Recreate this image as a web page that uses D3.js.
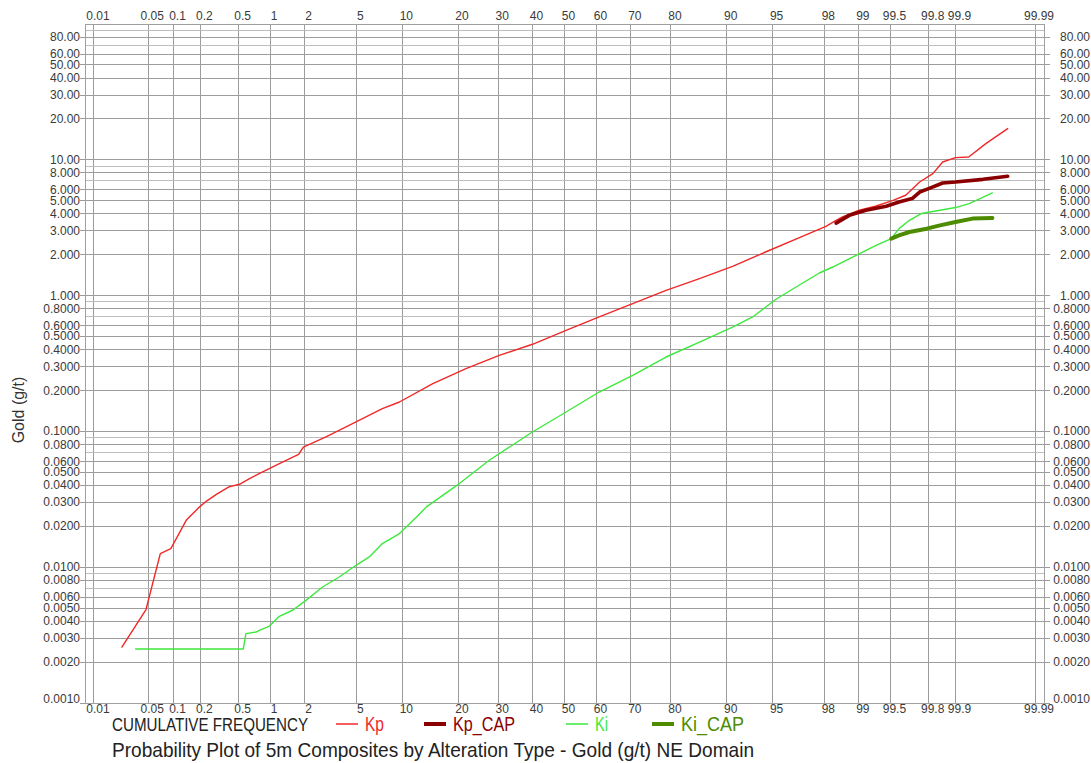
<!DOCTYPE html>
<html><head><meta charset="utf-8">
<script src="https://cdn.jsdelivr.net/npm/d3@7"></script>
<style>
html,body{margin:0;padding:0;background:#fff;}
svg{display:block;}
</style></head>
<body><svg id="chart" width="1091" height="763"></svg>
<script>
// ---------------- DATA ----------------
const probTicks = [0.01,0.05,0.1,0.2,0.5,1,2,5,10,20,30,40,50,60,70,80,90,95,98,99,99.5,99.8,99.9,99.99];
const probTickLabels = ["0.01","0.05","0.1","0.2","0.5","1","2","5","10","20","30","40","50","60","70","80","90","95","98","99","99.5","99.8","99.9","99.99"];
const yTicks = [80,60,50,40,30,20,10,8,6,5,4,3,2,1,0.8,0.6,0.5,0.4,0.3,0.2,0.1,0.08,0.06,0.05,0.04,0.03,0.02,0.01,0.008,0.006,0.005,0.004,0.003,0.002,0.001];
const yTickLabels = ["80.00","60.00","50.00","40.00","30.00","20.00","10.00","8.000","6.000","5.000","4.000","3.000","2.000","1.000","0.8000","0.6000","0.5000","0.4000","0.3000","0.2000","0.1000","0.0800","0.0600","0.0500","0.0400","0.0300","0.0200","0.0100","0.0080","0.0060","0.0050","0.0040","0.0030","0.0020","0.0010"];
const yGridMinor = [90,70,9,7,0.9,0.7,0.09,0.07,0.009,0.007];

// cumulative frequency (%) and gold grade (g/t)
const kpProb  = [0.0234,0.047,0.070,0.093,0.141,0.195,0.233,0.305,0.40,0.51,0.64,0.79,1.21,1.78,1.95,2.97,4.97,7.5,9.6,14.9,21.8,30.3,40.0,50.5,60.8,70.5,78.9,85.7,90.8,94.4,96.8,98.06,98.41,98.6,99.01,99.3,99.53,99.65,99.75,99.82,99.86,99.90,99.930,99.957,99.977];
const kpValue = [0.00258,0.00488,0.0126,0.0137,0.0224,0.0277,0.0307,0.0348,0.0390,0.0408,0.0449,0.0489,0.0579,0.0678,0.0767,0.0910,0.1173,0.147,0.1646,0.2249,0.290,0.3634,0.438,0.555,0.696,0.873,1.094,1.334,1.644,2.094,2.665,3.238,3.585,3.80,4.25,4.55,5.03,5.48,6.86,7.91,9.63,10.38,10.49,13.2,16.97];

const kpCapProb  = [98.41,98.78,99.14,99.45,99.59,99.70,99.75,99.80,99.86,99.90,99.953,99.977];
const kpCapValue = [3.42,3.90,4.25,4.55,4.89,5.18,5.79,6.14,6.75,6.86,7.18,7.56];

const kiProb  = [0.035,0.556,0.59,0.74,0.82,0.98,1.21,1.58,2.05,2.79,3.75,4.97,6.14,7.5,9.6,12.4,13.7,20.3,27.6,40.0,50.5,60.8,70.5,78.9,85.7,90.8,93.15,95.27,96.64,97.80,98.30,98.94,99.31,99.51,99.59,99.68,99.76,99.85,99.90,99.931,99.964];
const kiValue = [0.0025,0.0025,0.00324,0.00333,0.00347,0.00367,0.00435,0.00482,0.0057,0.00715,0.00847,0.01033,0.0119,0.01493,0.01768,0.0241,0.0277,0.0413,0.0613,0.0990,0.139,0.195,0.259,0.353,0.455,0.587,0.696,0.94,1.157,1.467,1.624,1.981,2.346,2.629,3.114,3.585,4.02,4.25,4.45,4.76,5.70];

const kiCapProb  = [99.51,99.59,99.68,99.79,99.85,99.90,99.937,99.964];
const kiCapValue = [2.63,2.78,2.94,3.11,3.29,3.48,3.69,3.73];

const seriesNames  = ["Kp","Kp_CAP","Ki","Ki_CAP"];
const seriesColors = ["#f02828","#8a0000","#3de83d","#4d8c00"];
const seriesWidths = [1.4,3.6,1.4,4];

// ---------------- HELPERS ----------------
function probit(p){ // inverse normal CDF (Acklam)
  const a=[-3.969683028665376e+01,2.209460984245205e+02,-2.759285104469687e+02,1.383577518672690e+02,-3.066479806614716e+01,2.506628277459239e+00];
  const b=[-5.447609879822406e+01,1.615858368580409e+02,-1.556989798598866e+02,6.680131188771972e+01,-1.328068155288572e+01];
  const c=[-7.784894002430293e-03,-3.223964580411365e-01,-2.400758277161838e+00,-2.549732539343734e+00,4.374664141464968e+00,2.938163982698783e+00];
  const d=[7.784695709041462e-03,3.224671290700398e-01,2.445134137142996e+00,3.754408661907416e+00];
  const pl=0.02425, ph=1-pl; let q,r;
  if(p<pl){q=Math.sqrt(-2*Math.log(p));return (((((c[0]*q+c[1])*q+c[2])*q+c[3])*q+c[4])*q+c[5])/((((d[0]*q+d[1])*q+d[2])*q+d[3])*q+1);}
  if(p<=ph){q=p-0.5;r=q*q;return (((((a[0]*r+a[1])*r+a[2])*r+a[3])*r+a[4])*r+a[5])*q/(((((b[0]*r+b[1])*r+b[2])*r+b[3])*r+b[4])*r+1);}
  q=Math.sqrt(-2*Math.log(1-p));return -(((((c[0]*q+c[1])*q+c[2])*q+c[3])*q+c[4])*q+c[5])/((((d[0]*q+d[1])*q+d[2])*q+d[3])*q+1);
}

// ---------------- LAYOUT ----------------
const L=85, R=1044, T=24, B=703;
const zScale = d3.scaleLinear().domain([-3.79,3.79]).range([L,R]);
const x = p => zScale(probit(p/100));
const y = d3.scaleLog().domain([0.001,100]).range([B,T]);

const svg = d3.select("#chart");
const font = "'Liberation Sans', Arial, sans-serif";
const narrow = "'Liberation Sans Narrow', 'Arial Narrow', 'Liberation Sans', sans-serif";

// grid
const g = svg.append("g");
g.selectAll(".vg").data(probTicks).join("line")
  .attr("x1",d=>x(d)).attr("x2",d=>x(d)).attr("y1",T).attr("y2",B)
  .attr("stroke","#9c9c9c").attr("stroke-width",1).attr("shape-rendering","crispEdges");
g.selectAll(".hgm").data(yGridMinor).join("line")
  .attr("x1",L).attr("x2",R).attr("y1",d=>y(d)).attr("y2",d=>y(d))
  .attr("stroke","#bdbdbd").attr("stroke-width",1).attr("shape-rendering","crispEdges");
g.selectAll(".hg").data(yTicks).join("line")
  .attr("x1",L-5).attr("x2",R+6).attr("y1",d=>y(d)).attr("y2",d=>y(d))
  .attr("stroke","#9c9c9c").attr("stroke-width",1).attr("shape-rendering","crispEdges");
g.append("rect").attr("x",L).attr("y",T).attr("width",R-L).attr("height",B-T)
  .attr("fill","none").attr("stroke","#a0a0a0").attr("shape-rendering","crispEdges");

// y labels
const lab = svg.append("g").attr("font-family",font).attr("font-size",12).attr("fill","#3a3a3a");
lab.selectAll(".yl").data(yTicks).join("text")
  .attr("x",80).attr("y",(d,i)=>y(d)+ (i===yTicks.length-1? 0:4))
  .attr("text-anchor","end").text((d,i)=>yTickLabels[i]);
lab.selectAll(".yr").data(yTicks).join("text")
  .attr("x",1090).attr("y",(d,i)=>y(d)+ (i===yTicks.length-1? 0:4))
  .attr("text-anchor","end").text((d,i)=>yTickLabels[i]);
// x labels top and bottom
lab.selectAll(".xt").data(probTicks).join("text")
  .attr("x",d=>x(d)+4).attr("y",20).attr("text-anchor","middle").text((d,i)=>probTickLabels[i]);
lab.selectAll(".xb").data(probTicks).join("text")
  .attr("x",d=>x(d)+4).attr("y",713).attr("text-anchor","middle").text((d,i)=>probTickLabels[i]);

// y axis title
svg.append("text").attr("transform","translate(24,410) rotate(-90)")
  .attr("text-anchor","middle").attr("font-family",font).attr("font-size",16).attr("fill","#333").text("Gold (g/t)");

// series
const line = d3.line().x(d=>x(d[0])).y(d=>y(d[1]));
const series = [
  d3.zip(kpProb,kpValue), d3.zip(kpCapProb,kpCapValue),
  d3.zip(kiProb,kiValue), d3.zip(kiCapProb,kiCapValue)
];
[0,2,1,3].forEach(i=>{
  svg.append("path").datum(series[i]).attr("d",line)
    .attr("fill","none").attr("stroke",seriesColors[i]).attr("stroke-width",seriesWidths[i])
    .attr("stroke-linejoin","round").attr("stroke-linecap","round");
});

// legend
const lg = svg.append("g").attr("font-family",narrow);
lg.append("text").attr("x",112).attr("y",731).attr("font-size",18).attr("fill","#222")
  .attr("textLength",196).attr("lengthAdjust","spacingAndGlyphs").text("CUMULATIVE FREQUENCY");
const legX = [336,424,566,652];
const legTxtW = [19,62,13,63];
seriesNames.forEach((n,i)=>{
  lg.append("line").attr("x1",legX[i]).attr("x2",legX[i]+22).attr("y1",724).attr("y2",724)
    .attr("stroke",seriesColors[i]).attr("stroke-width",i%2? 4:1.5);
  lg.append("text").attr("x",legX[i]+29).attr("y",731).attr("font-size",20).attr("fill",seriesColors[i])
    .attr("textLength",legTxtW[i]).attr("lengthAdjust","spacingAndGlyphs").text(n);
});
svg.append("text").attr("x",112).attr("y",757).attr("font-family",narrow).attr("font-size",21).attr("fill","#222")
  .attr("textLength",642).attr("lengthAdjust","spacingAndGlyphs")
  .text("Probability Plot of 5m Composites by Alteration Type - Gold (g/t) NE Domain");
</script></body></html>
